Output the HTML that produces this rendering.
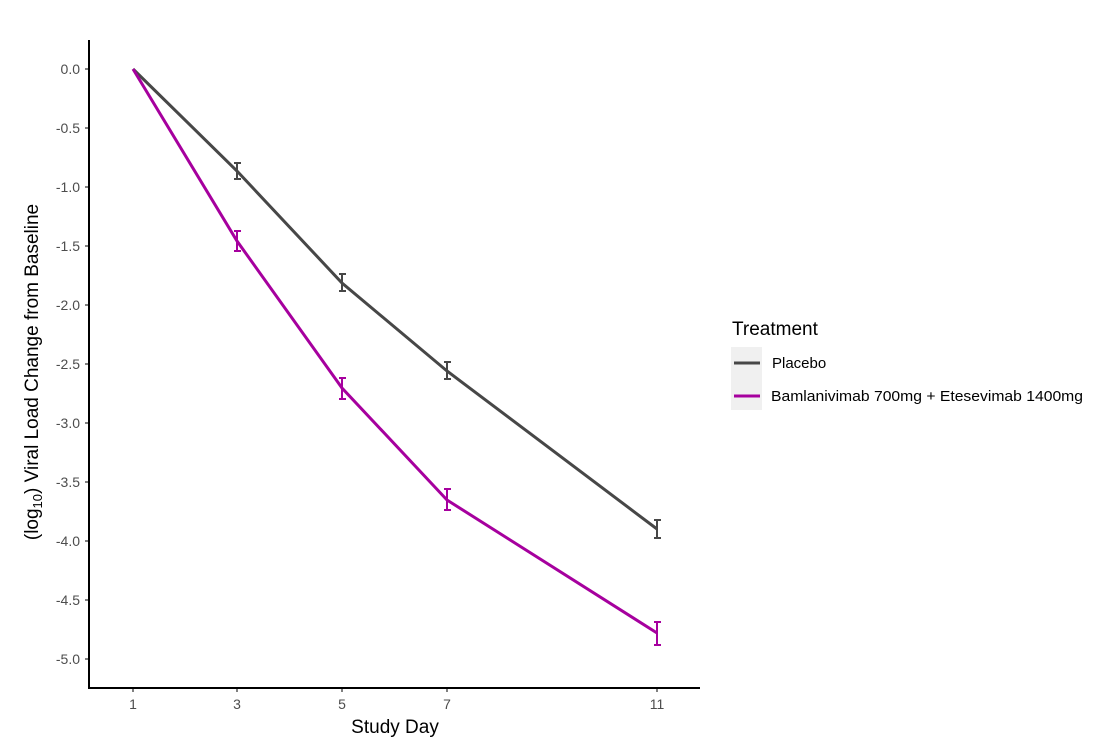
<!DOCTYPE html>
<html><head><style>body{margin:0;background:#fff}</style></head><body>
<svg width="1096" height="745" xmlns="http://www.w3.org/2000/svg" font-family="Liberation Sans, sans-serif">
<rect width="1096" height="745" fill="#fff"/>
<g fill="#4d4d4d" font-size="14" text-anchor="end">
<text x="80" y="74">0.0</text><text x="80" y="133">-0.5</text><text x="80" y="192">-1.0</text>
<text x="80" y="251">-1.5</text><text x="80" y="310">-2.0</text><text x="80" y="369">-2.5</text>
<text x="80" y="428">-3.0</text><text x="80" y="487">-3.5</text><text x="80" y="546">-4.0</text>
<text x="80" y="605">-4.5</text><text x="80" y="664">-5.0</text>
</g>
<g stroke="#000" stroke-width="1">
<line x1="85" y1="69" x2="89" y2="69"/><line x1="85" y1="128" x2="89" y2="128"/><line x1="85" y1="187" x2="89" y2="187"/>
<line x1="85" y1="246" x2="89" y2="246"/><line x1="85" y1="305" x2="89" y2="305"/><line x1="85" y1="364" x2="89" y2="364"/>
<line x1="85" y1="423" x2="89" y2="423"/><line x1="85" y1="482" x2="89" y2="482"/><line x1="85" y1="541" x2="89" y2="541"/>
<line x1="85" y1="600" x2="89" y2="600"/><line x1="85" y1="659" x2="89" y2="659"/>
<line x1="133" y1="688" x2="133" y2="692"/><line x1="237" y1="688" x2="237" y2="692"/><line x1="342" y1="688" x2="342" y2="692"/>
<line x1="447" y1="688" x2="447" y2="692"/><line x1="657" y1="688" x2="657" y2="692"/>
</g>
<path d="M89 40V688H700" fill="none" stroke="#000" stroke-width="2"/>
<g fill="#4d4d4d" font-size="14" text-anchor="middle">
<text x="133" y="709">1</text><text x="237" y="709">3</text><text x="342" y="709">5</text><text x="447" y="709">7</text><text x="657" y="709">11</text>
</g>
<text x="395" y="733" font-size="19" text-anchor="middle">Study Day</text>
<text transform="translate(38,372) rotate(-90)" font-size="19" text-anchor="middle">(log<tspan font-size="13" dy="4">10</tspan><tspan dy="-4">) Viral Load Change from Baseline</tspan></text>
<polyline points="133,69 237,171 342,283 447,371 657,529" fill="none" stroke="#474747" stroke-width="3"/>
<polyline points="133,69 237,241 342,388 447,500 657,633" fill="none" stroke="#a6009e" stroke-width="3"/>
<g stroke="#474747" stroke-width="2" fill="none">
<path d="M234 163h7M237 163v16M234 179h7"/><path d="M339 274h7M342 274v17M339 291h7"/>
<path d="M444 362h7M447 362v17M444 379h7"/><path d="M654 520h7M657 520v18M654 538h7"/>
</g>
<g stroke="#a6009e" stroke-width="2" fill="none">
<path d="M234 231h7M237 231v20M234 251h7"/><path d="M339 378h7M342 378v21M339 399h7"/>
<path d="M444 489h7M447 489v21M444 510h7"/><path d="M654 622h7M657 622v23M654 645h7"/>
</g>
<text x="732" y="335" font-size="19">Treatment</text>
<rect x="731" y="347" width="31" height="63" fill="#f0f0f0"/>
<line x1="734" y1="363" x2="760" y2="363" stroke="#474747" stroke-width="3"/>
<line x1="734" y1="396" x2="760" y2="396" stroke="#a6009e" stroke-width="3"/>
<text x="772" y="368" font-size="15">Placebo</text>
<text x="771" y="401" font-size="15" textLength="312" lengthAdjust="spacingAndGlyphs">Bamlanivimab 700mg + Etesevimab 1400mg</text>
</svg>
</body></html>
